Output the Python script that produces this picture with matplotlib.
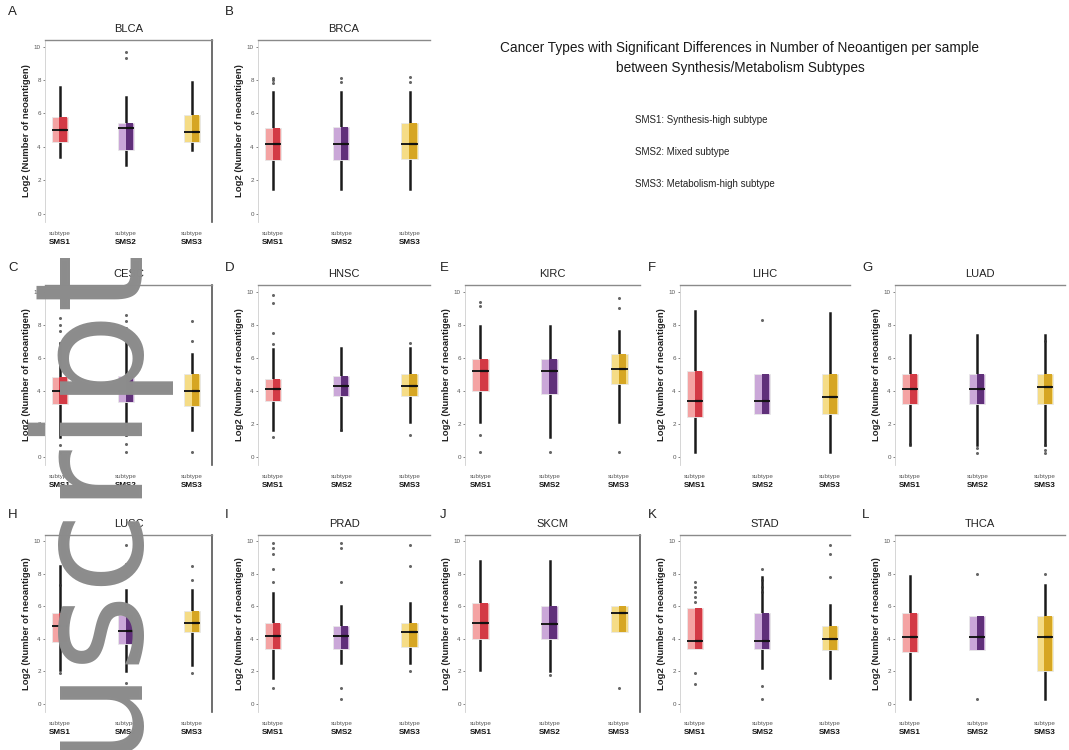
import matplotlib
matplotlib.use("Agg")
import matplotlib.pyplot as plt
import matplotlib.transforms as mtransforms

plt.rcParams['font.family'] = ['Liberation Sans', 'DejaVu Sans']

# ---------------- data ----------------
PANEL_LETTERS = ['A', 'B', 'C', 'D', 'E', 'F', 'G', 'H', 'I', 'J', 'K', 'L']
CANCERS = ['BLCA', 'BRCA', 'CESC', 'HNSC', 'KIRC', 'LIHC', 'LUAD',
           'LUSC', 'PRAD', 'SKCM', 'STAD', 'THCA']
SUBTYPE_TOP = ['subtype', 'subtype', 'subtype']
SUBTYPES = ['SMS1', 'SMS2', 'SMS3']
LEGEND_LINES = ['SMS1: Synthesis-high subtype',
                'SMS2: Mixed subtype',
                'SMS3: Metabolism-high subtype']
TITLE = ('Cancer Types with Significant Differences in Number of Neoantigen per sample\n'
         'between Synthesis/Metabolism Subtypes')
YLABEL = 'Log2 (Number of neoantigen)'
YTICKS = [0, 2, 4, 6, 8, 10]

# box statistics per cancer, per subtype (SMS1, SMS2, SMS3)
MEDIAN = [[5.0, 5.1, 4.9], [4.2, 4.2, 4.2], [4.0, 4.0, 4.0], [4.1, 4.3, 4.3],
          [5.2, 5.2, 5.3], [3.4, 3.4, 3.6], [4.1, 4.1, 4.2], [4.8, 4.5, 5.0],
          [4.2, 4.2, 4.4], [5.0, 4.9, 5.6], [3.9, 3.9, 4.0], [4.1, 4.1, 4.1]]
Q1 = [[4.3, 3.8, 4.3], [3.2, 3.2, 3.3], [3.2, 3.3, 3.1], [3.4, 3.7, 3.7],
      [4.0, 3.8, 4.4], [2.4, 2.6, 2.6], [3.2, 3.2, 3.2], [3.8, 3.7, 4.4],
      [3.4, 3.4, 3.5], [4.0, 4.0, 4.4], [3.4, 3.4, 3.3], [3.2, 3.3, 2.0]]
Q3 = [[5.8, 5.4, 5.9], [5.1, 5.2, 5.4], [4.8, 4.9, 5.0], [4.7, 4.9, 5.0],
      [5.9, 5.9, 6.2], [5.2, 5.0, 5.0], [5.0, 5.0, 5.0], [5.6, 5.5, 5.7],
      [5.0, 4.8, 5.0], [6.2, 6.0, 6.0], [5.9, 5.6, 4.8], [5.6, 5.4, 5.4]]
WHISK_LO = [[3.4, 2.9, 3.8], [1.5, 1.5, 1.5], [1.2, 1.3, 1.6], [1.6, 1.6, 2.1],
            [2.1, 1.2, 2.1], [0.3, 2.6, 0.3], [0.7, 0.7, 0.7], [2.1, 2.0, 2.4],
            [1.6, 2.5, 2.5], [2.1, 2.0, 4.4], [3.4, 2.2, 1.6], [0.3, 3.3, 0.3]]
WHISK_HI = [[7.6, 7.0, 7.9], [7.3, 7.3, 7.3], [6.9, 7.0, 6.2], [6.5, 6.6, 6.6],
            [7.9, 7.9, 7.6], [8.8, 5.0, 8.7], [7.4, 7.4, 7.4], [8.5, 7.0, 7.0],
            [6.8, 6.0, 6.2], [8.8, 8.8, 6.0], [5.9, 7.8, 6.1], [7.9, 5.4, 7.3]]
OUTLIERS = [
    [[], [9.7, 9.3], []],
    [[8.1, 8.0, 7.8], [8.1, 7.9], [8.2, 7.9]],
    [[8.4, 8.0, 7.6, 0.7, 0.2], [8.6, 8.2, 7.8, 0.8, 0.3], [8.2, 7.0, 0.3]],
    [[9.8, 9.3, 7.5, 6.8, 1.2], [1.6], [6.9, 1.3]],
    [[9.4, 9.1, 1.3, 0.3], [0.3], [9.6, 9.0, 0.3]],
    [[], [8.3], []],
    [[0.8], [0.5, 0.2], [7.0, 0.7, 0.4, 0.2]],
    [[7.3, 1.9], [9.8, 8.6, 7.9, 1.3], [8.5, 7.6, 1.9]],
    [[9.9, 9.6, 9.2, 8.3, 7.5, 1.0], [9.9, 9.6, 7.5, 1.0, 0.3], [9.8, 8.5, 2.0]],
    [[], [1.8], [1.0]],
    [[7.5, 7.2, 6.9, 6.6, 6.3, 1.9, 1.2], [8.3, 7.6, 7.2, 6.9, 1.1, 0.3], [9.8, 9.2, 7.8]],
    [[], [8.0, 0.3], [8.0]],
]

# ---------------- style / layout ----------------
PALE = ['#f4a3a3', '#caa7d8', '#f5dc86']
DARK = ['#d33a45', '#60307a', '#d6a623']
W, H = 1069, 750
COL_X = [(45, 212), (258, 430), (465, 640), (680, 850), (895, 1065)]
LABEL_X = [8, 225, 440, 648, 862]
ROW_Y = [(40, 222), (285, 465), (535, 712)]
LABEL_Y = [12, 268, 515]
GRID = [(0, 0), (0, 1), (1, 0), (1, 1), (1, 2), (1, 3), (1, 4),
        (2, 0), (2, 1), (2, 2), (2, 3), (2, 4)]
RIGHT_SPINE = {'A', 'C', 'H', 'J'}

fig = plt.figure(figsize=(W / 100, H / 100), dpi=100)


def px_axes(x0, y0, x1, y1):
    return fig.add_axes([x0 / W, 1 - y1 / H, (x1 - x0) / W, (y1 - y0) / H])


for i, (r, c) in enumerate(GRID):
    x0, x1 = COL_X[c]
    y0, y1 = ROW_Y[r]
    ax = px_axes(x0, y0, x1, y1)
    stats = []
    for k in range(3):
        stats.append(dict(med=MEDIAN[i][k], q1=Q1[i][k], q3=Q3[i][k],
                          whislo=WHISK_LO[i][k], whishi=WHISK_HI[i][k],
                          fliers=OUTLIERS[i][k]))
    pos = [1, 2, 3]
    b1 = ax.bxp(stats, positions=pos, widths=0.24, patch_artist=True,
                showcaps=False, showfliers=True,
                boxprops=dict(linewidth=0.6, edgecolor='#e8e8e8'),
                whiskerprops=dict(color='#1a1a1a', linewidth=1.8),
                medianprops=dict(color='#1a1a1a', linewidth=1.4),
                flierprops=dict(marker='o', markersize=2.2, markerfacecolor='#333333',
                                markeredgecolor='none', alpha=0.75))
    for k, p in enumerate(b1['boxes']):
        p.set_facecolor(PALE[k])
        p.set_zorder(1)
    for w in b1['whiskers']:
        w.set_zorder(0.5)
    stats2 = [dict(s, whislo=s['q1'], whishi=s['q3'], fliers=[]) for s in stats]
    b2 = ax.bxp(stats2, positions=[p + 0.05 for p in pos], widths=0.11,
                patch_artist=True, showcaps=False, showfliers=False,
                boxprops=dict(linewidth=0),
                whiskerprops=dict(linewidth=0),
                medianprops=dict(color='#111111', linewidth=1.6))
    for k, p in enumerate(b2['boxes']):
        p.set_facecolor(DARK[k])
        p.set_zorder(2)

    ax.set_xlim(0.78, 3.3)
    ax.set_ylim(-0.5, 10.4)
    ax.set_yticks(YTICKS)
    ax.set_yticklabels([str(t) for t in YTICKS], fontsize=4.5, color='#444444')
    ax.set_xticks(pos)
    ax.set_xticklabels(SUBTYPES, fontsize=5.8, fontweight='bold', color='#111111')
    ax.tick_params(axis='both', length=1.5, width=0.5, pad=1.5, colors='#555555')
    ax.tick_params(axis='x', length=0, pad=12, labelcolor='#111111')
    trans = mtransforms.blended_transform_factory(ax.transData, ax.transAxes)
    for k in range(3):
        ax.text(pos[k], -0.05, SUBTYPE_TOP[k], transform=trans, ha='center',
                va='top', fontsize=4.5, color='#555555')
    ax.spines['bottom'].set_visible(False)
    ax.spines['left'].set_color('#cfcfcf')
    ax.spines['left'].set_linewidth(0.6)
    ax.spines['top'].set_color('#8a8a8a')
    ax.spines['top'].set_linewidth(1.0)
    ax.spines['right'].set_visible(PANEL_LETTERS[i] in RIGHT_SPINE)
    ax.spines['right'].set_color('#555555')
    ax.spines['right'].set_linewidth(1.2)
    ax.set_ylabel(YLABEL, fontsize=6.8, fontweight='bold', labelpad=2, color='#222222')
    ax.set_title(CANCERS[i], fontsize=8, pad=6, color='#222222')
    fig.text(LABEL_X[c] / W, 1 - LABEL_Y[r] / H, PANEL_LETTERS[i],
             fontsize=9.5, ha='left', va='center', color='#222222')

# title and legend text
fig.text(740 / W, 1 - 58 / H, TITLE, ha='center', va='center', fontsize=9.8,
         color='#1a1a1a', linespacing=1.55)
for j, line in enumerate(LEGEND_LINES):
    fig.text(635 / W, 1 - (120 + j * 32) / H, line, ha='left', va='center',
             fontsize=7, color='#222222')

# watermark
fig.text(143 / W, 1 - 253 / H, 'Author Manuscript', rotation=90,
         rotation_mode='anchor', ha='right', va='baseline', fontsize=108,
         family='DejaVu Sans', color='#8c8c8c', zorder=50)

fig.savefig('out.png', dpi=100)
